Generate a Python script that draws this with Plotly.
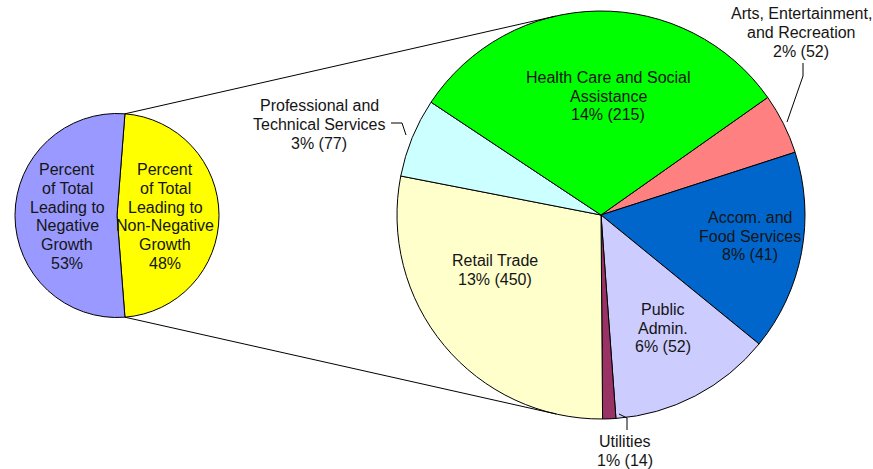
import math
import plotly.graph_objects as go

W, H = 873, 469

# ---------------- data ----------------
small_labels = ["Percent<br>of Total<br>Leading to<br>Non-Negative<br>Growth<br>48%",
                "Percent<br>of Total<br>Leading to<br>Negative<br>Growth<br>53%"]
small_values = [48, 53]
small_colors = ["#FFFF00", "#9999FF"]

big_names = ["Arts, Entertainment,<br>and Recreation", "Accom. and<br>Food Services",
             "Public<br>Admin.", "Utilities", "Retail Trade",
             "Professional and<br>Technical Services", "Health Care and Social<br>Assistance"]
big_values = [2.3, 7.6, 6.2, 0.5, 13.5, 3.0, 14.8]
big_pct_labels = ["2%", "8%", "6%", "1%", "13%", "3%", "14%"]
big_counts = [52, 41, 52, 14, 450, 77, 215]
big_colors = ["#FF8080", "#0066CC", "#CCCCFF", "#993366", "#FFFFCC", "#CCFFFF", "#00FF00"]

# ---------------- geometry (pixels) ----------------
SC = (117.0, 215.5)   # small pie centre
SR = 102.0
BC = (601.0, 215.0)   # big pie centre
BR = 204.0
BIG_ROT = 54.8        # first big slice starts here (deg clockwise from 12 o'clock)
LINE_H = 18.7

def px(x):
    return x / W

def py(y):
    return 1 - y / H

small_share = small_values[0] / sum(small_values)
SMALL_ROT = 90 - 180 * small_share

FONT = dict(family="Liberation Sans, Arial, sans-serif", size=16, color="#151515")

fig = go.Figure()
fig.add_trace(go.Pie(
    values=small_values, labels=["Non-Negative", "Negative"], sort=False,
    direction="clockwise", rotation=SMALL_ROT, textinfo="none", hoverinfo="label+value",
    marker=dict(colors=small_colors, line=dict(color="black", width=1)),
    domain=dict(x=[px(SC[0] - SR), px(SC[0] + SR)], y=[py(SC[1] + SR), py(SC[1] - SR)]),
    showlegend=False))
fig.add_trace(go.Pie(
    values=big_values, labels=[n.replace("<br>", " ") for n in big_names], sort=False,
    direction="clockwise", rotation=BIG_ROT, textinfo="none", hoverinfo="label+value",
    marker=dict(colors=big_colors, line=dict(color="black", width=1)),
    domain=dict(x=[px(BC[0] - BR), px(BC[0] + BR)], y=[py(BC[1] + BR), py(BC[1] - BR)]),
    showlegend=False))

# ---------------- connector lines (tangents from small-pie boundary to big pie) ----------------
def pt_on(c, r, ang_deg):
    a = math.radians(ang_deg)
    return (c[0] + r * math.sin(a), c[1] - r * math.cos(a))

def tangent(p, upper):
    dx, dy = p[0] - BC[0], p[1] - BC[1]
    d = math.hypot(dx, dy)
    base = math.atan2(dy, dx)
    off = math.acos(BR / d)
    cands = [(BC[0] + BR * math.cos(base + s * off), BC[1] + BR * math.sin(base + s * off)) for s in (1, -1)]
    cands.sort(key=lambda t: t[1])
    return cands[0] if upper else cands[1]

top_pt = pt_on(SC, SR, SMALL_ROT)
bot_pt = pt_on(SC, SR, SMALL_ROT + 360 * small_share)
shapes = []
for p, up in ((top_pt, True), (bot_pt, False)):
    t = tangent(p, up)
    shapes.append(dict(type="line", xref="paper", yref="paper",
                       x0=px(p[0]), y0=py(p[1]), x1=px(t[0]), y1=py(t[1]),
                       line=dict(color="black", width=1)))

# leader lines for outside labels
leaders = [
    [(803, 63), (803, 76), (787, 122)],
    [(391, 123), (402, 123), (406, 135)],
    [(619, 414), (627, 418), (627, 430)],
]
for pts in leaders:
    path = "M " + " L ".join(f"{px(x)},{py(y)}" for x, y in pts)
    shapes.append(dict(type="path", xref="paper", yref="paper", path=path,
                       line=dict(color="black", width=1)))

# ---------------- labels ----------------
annotations = []

def add_block(text, x, y):
    lines = text.split("<br>")
    n = len(lines)
    for i, ln in enumerate(lines):
        yy = y + (i - (n - 1) / 2) * LINE_H
        annotations.append(dict(text=ln, x=px(x), y=py(yy), xref="paper", yref="paper",
                                xanchor="center", yanchor="middle", showarrow=False,
                                font=FONT, align="center"))

label_pos = [(801, 32.5), (750, 236), (663, 328), (625, 451), (495, 270), (319, 124.5), (608, 96)]
for name, pct, cnt, (x, y) in zip(big_names, big_pct_labels, big_counts, label_pos):
    add_block(f"{name}<br>{pct} ({cnt})", x, y)

small_pos = [(165, 216.5), (67, 216.5)]
for txt, (x, y) in zip(small_labels, small_pos):
    add_block(txt, x, y)

fig.update_layout(width=W, height=H, margin=dict(l=0, r=0, t=0, b=0),
                  paper_bgcolor="white", plot_bgcolor="white",
                  shapes=shapes, annotations=annotations, font=FONT)
fig.write_html("out.html", config={"displayModeBar": False},
               post_script="document.body.style.margin='0';document.body.style.padding='0';")
